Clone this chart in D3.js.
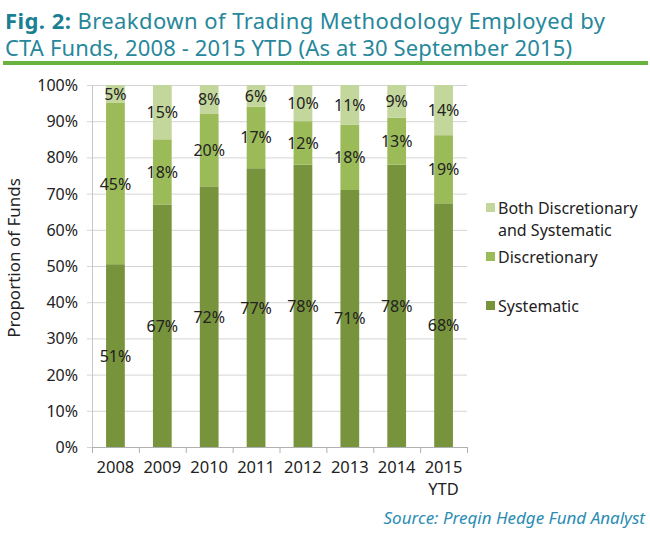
<!DOCTYPE html>
<html>
<head>
<meta charset="utf-8">
<script src="https://cdn.jsdelivr.net/npm/d3@7"></script>
<style>
  html, body { margin: 0; padding: 0; background: #fff; }
  svg { display: block; }
  text { font-family: "Noto Sans", "DejaVu Sans", sans-serif; }
</style>
</head>
<body>
<svg id="chart" width="650" height="535"></svg>
<script>
// ---- data ----
const categories = ["2008", "2009", "2010", "2011", "2012", "2013", "2014", "2015 YTD"];
const systematic    = [51, 67, 72, 77, 78, 71, 78, 68];
const discretionary = [45, 18, 20, 17, 12, 18, 13, 19];
const both          = [5, 15, 8, 6, 10, 11, 9, 14];
const seriesNames = ["Systematic", "Discretionary", "Both Discretionary and Systematic"];
const yTicks = [0, 10, 20, 30, 40, 50, 60, 70, 80, 90, 100];

const colors = { "Systematic": "#77933c", "Discretionary": "#9bbb59", "Both Discretionary and Systematic": "#c3d69b" };

const svg = d3.select("#chart");
const margin = { left: 92, right: 183, top: 85, bottom: 88 };
const W = 650, H = 535;
const x0 = margin.left, x1 = W - margin.right;
const y0 = H - margin.bottom, y1 = margin.top;

// build table (100% stacked, normalised like Excel)
const table = categories.map((c, i) => {
  const tot = systematic[i] + discretionary[i] + both[i];
  return {
    cat: c,
    "Systematic": systematic[i] / tot * 100,
    "Discretionary": discretionary[i] / tot * 100,
    "Both Discretionary and Systematic": both[i] / tot * 100,
    raw: { "Systematic": systematic[i], "Discretionary": discretionary[i], "Both Discretionary and Systematic": both[i] }
  };
});
const stack = d3.stack().keys(seriesNames)(table);

const x = d3.scaleBand().domain(categories).range([x0, x1]).paddingInner(0.6).paddingOuter(0.3);
const xb = d3.scaleBand().domain(categories).range([x0, x1]);
const y = d3.scaleLinear().domain([0, 100]).range([y0, y1]);

// title
const title = svg.append("text").attr("x", 5).attr("y", 29).attr("font-size", 22).attr("fill", "#27879b")
  .attr("textLength", 600).attr("lengthAdjust", "spacing");
title.append("tspan").attr("font-weight", "bold").attr("fill", "#1b7f93").text("Fig. 2:");
title.append("tspan").text(" Breakdown of Trading Methodology Employed by");
svg.append("text").attr("x", 5).attr("y", 56).attr("font-size", 22).attr("fill", "#27879b")
  .attr("textLength", 567).attr("lengthAdjust", "spacing")
  .text("CTA Funds, 2008 - 2015 YTD (As at 30 September 2015)");
svg.append("rect").attr("x", 3).attr("y", 61).attr("width", 645).attr("height", 4).attr("fill", "#6ab23e");

// gridlines
svg.append("g").selectAll("line").data(yTicks).join("line")
  .attr("x1", x0 - 5).attr("x2", x1)
  .attr("y1", d => y(d) + 0.5).attr("y2", d => y(d) + 0.5)
  .attr("stroke", "#d4d4d4").attr("stroke-width", 1);

// left axis line
svg.append("line").attr("x1", x0 + 0.5).attr("x2", x0 + 0.5).attr("y1", y1).attr("y2", y0)
  .attr("stroke", "#c8c8c8");

// y tick labels
svg.append("g").selectAll("text").data(yTicks).join("text")
  .attr("x", x0 - 14).attr("y", d => y(d) + 6)
  .attr("text-anchor", "end").attr("font-size", 16).attr("fill", "#222")
  .text(d => d + "%");

// bars
svg.append("g").selectAll("g").data(stack).join("g")
  .attr("fill", d => colors[d.key])
  .selectAll("rect").data(d => d).join("rect")
  .attr("x", d => x(d.data.cat))
  .attr("width", x.bandwidth())
  .attr("y", d => y(d[1]))
  .attr("height", d => y(d[0]) - y(d[1]));

// x axis
svg.append("line").attr("x1", x0).attr("x2", x1).attr("y1", y0 + 0.5).attr("y2", y0 + 0.5).attr("stroke", "#b0b0b0");
const bounds = categories.map(c => xb(c)).concat([x1]);
svg.append("g").selectAll("line").data(bounds).join("line")
  .attr("x1", d => d + 0.5).attr("x2", d => d + 0.5)
  .attr("y1", y0).attr("y2", y0 + 6).attr("stroke", "#b0b0b0");

// x labels (each line its own text element)
const xg = svg.append("g");
categories.forEach(c => {
  c.split(" ").forEach((p, i) => {
    xg.append("text").attr("x", xb(c) + xb.bandwidth() / 2).attr("y", y0 + 26 + i * 22)
      .attr("text-anchor", "middle").attr("font-size", 16.5).attr("fill", "#222").text(p);
  });
});

// data labels
svg.append("g").selectAll("g").data(stack).join("g")
  .selectAll("text").data(d => d.map(v => ({ v, key: d.key }))).join("text")
  .attr("x", d => x(d.v.data.cat) + x.bandwidth() / 2)
  .attr("y", d => y((d.v[0] + d.v[1]) / 2) + 6)
  .attr("text-anchor", "middle").attr("font-size", 16).attr("fill", "#222")
  .text(d => d.v.data.raw[d.key] + "%");

// y axis title
svg.append("text").attr("transform", `translate(20, 258) rotate(-90)`)
  .attr("text-anchor", "middle").attr("font-size", 17).attr("fill", "#222")
  .text("Proportion of Funds");

// legend
const legend = [
  { key: "Both Discretionary and Systematic", lines: ["Both Discretionary", "and Systematic"], y: 208 },
  { key: "Discretionary", lines: ["Discretionary"], y: 257 },
  { key: "Systematic", lines: ["Systematic"], y: 306 }
];
const lg = svg.append("g").selectAll("g").data(legend).join("g");
lg.append("rect").attr("x", 486).attr("y", d => d.y - 5).attr("width", 9).attr("height", 9)
  .attr("fill", d => colors[d.key]);
lg.each(function(d) {
  const g = d3.select(this);
  d.lines.forEach((l, i) => {
    g.append("text").attr("x", 498).attr("y", d.y + 6 + i * 22).attr("font-size", 16).attr("fill", "#222").text(l);
  });
});

// source
svg.append("text").attr("x", 645).attr("y", 524).attr("text-anchor", "end")
  .attr("font-family", "'Liberation Sans', Arial, sans-serif").attr("font-style", "italic")
  .attr("font-size", 17).attr("fill", "#2b8db3")
  .text("Source: Preqin Hedge Fund Analyst");
</script>
</body>
</html>
